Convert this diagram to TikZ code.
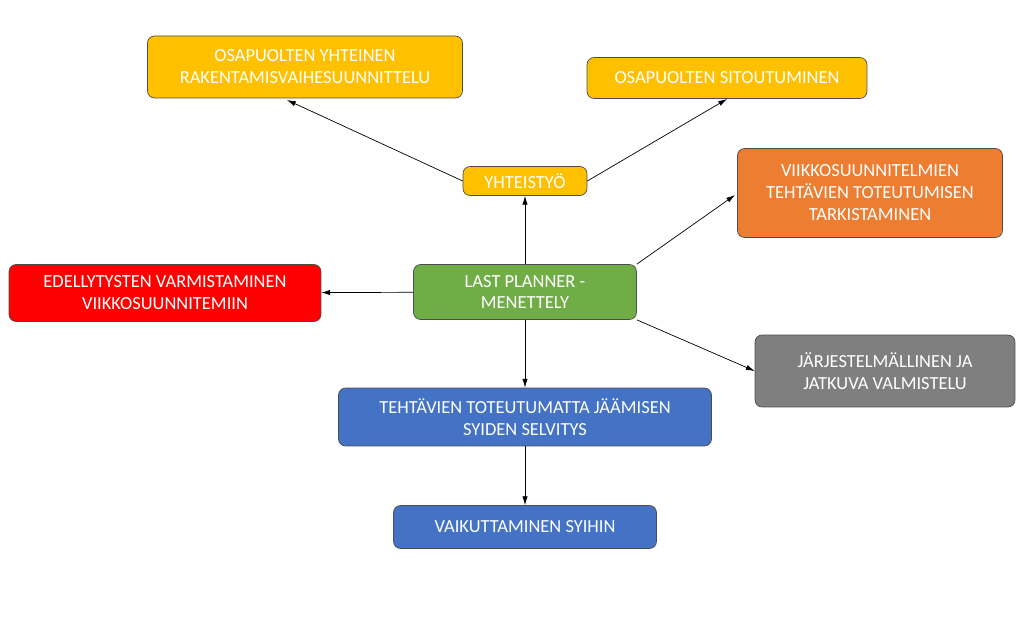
\documentclass[tikz,border=0pt]{standalone}
\usepackage{fontspec}
\setmainfont{Carlito}
\usetikzlibrary{positioning,arrows.meta}
\definecolor{lpyellow}{HTML}{FFC000}
\definecolor{lporange}{HTML}{ED7D31}
\definecolor{lpred}{HTML}{FF0000}
\definecolor{lpgreen}{HTML}{70AD47}
\definecolor{lpgray}{HTML}{7F7F7F}
\definecolor{lpblue}{HTML}{4472C4}

\begin{document}
\begin{tikzpicture}[
    x=0.02cm, y=-0.02cm,
    box/.style ={
        rectangle,
        rounded corners=4pt,
        draw=black!70,
        thin,
        text=white,
        align=center,
        font=\fontsize{10.5}{12.5}\selectfont,
        inner sep=2pt
    },
    conn/.style ={
        -{Latex[length=5pt,width=3pt]},
        thin
    }
    ]
    \useasboundingbox (0,0) rectangle (1024,641);
    \foreach \name/ \px/ \py/ \bw/ \bh/ \clr/ \txt in {
        plan/305/67/6.30/1.24/lpyellow/{OSAPUOLTEN YHTEINEN\\RAKENTAMISVAIHESUUNNITTELU},
        sitou/727/78/5.60/0.82/lpyellow/{OSAPUOLTEN SITOUTUMINEN},
        yht/525/181/2.48/0.58/lpyellow/{YHTEISTYÖ},
        tark/870/193/5.30/1.78/lporange/{VIIKKOSUUNNITELMIEN\\TEHTÄVIEN TOTEUTUMISEN\\TARKISTAMINEN},
        edel/165/293/6.24/1.14/lpred/{EDELLYTYSTEN VARMISTAMINEN\\VIIKKOSUUNNITEMIIN},
        lp/525/292/4.46/1.10/lpgreen/{LAST PLANNER -\\MENETTELY},
        valm/885/371/5.20/1.44/lpgray/{JÄRJESTELMÄLLINEN JA\\JATKUVA VALMISTELU},
        syyt/525/417/7.46/1.16/lpblue/{TEHTÄVIEN TOTEUTUMATTA JÄÄMISEN\\SYIDEN SELVITYS},
        vaik/525/527/5.26/0.86/lpblue/{VAIKUTTAMINEN SYIHIN}}
        \node[box,fill=\clr,minimum width=\bw cm,minimum height=\bh cm] (\name) at (\px,\py) {\txt};

    \draw[conn] (yht.west) -- (287,100);
    \draw[conn] (yht.east) -- (727,99);
    \draw[conn] (lp) -- (yht);
    \draw[conn] (lp.north east) -- (735,195);
    \draw[conn] (lp) -- (edel);
    \draw[conn] (lp.south east) -- (valm.west);
    \draw[conn] (lp) -- (syyt);
    \draw[conn] (syyt) -- (vaik);
\end{tikzpicture}
\end{document}
